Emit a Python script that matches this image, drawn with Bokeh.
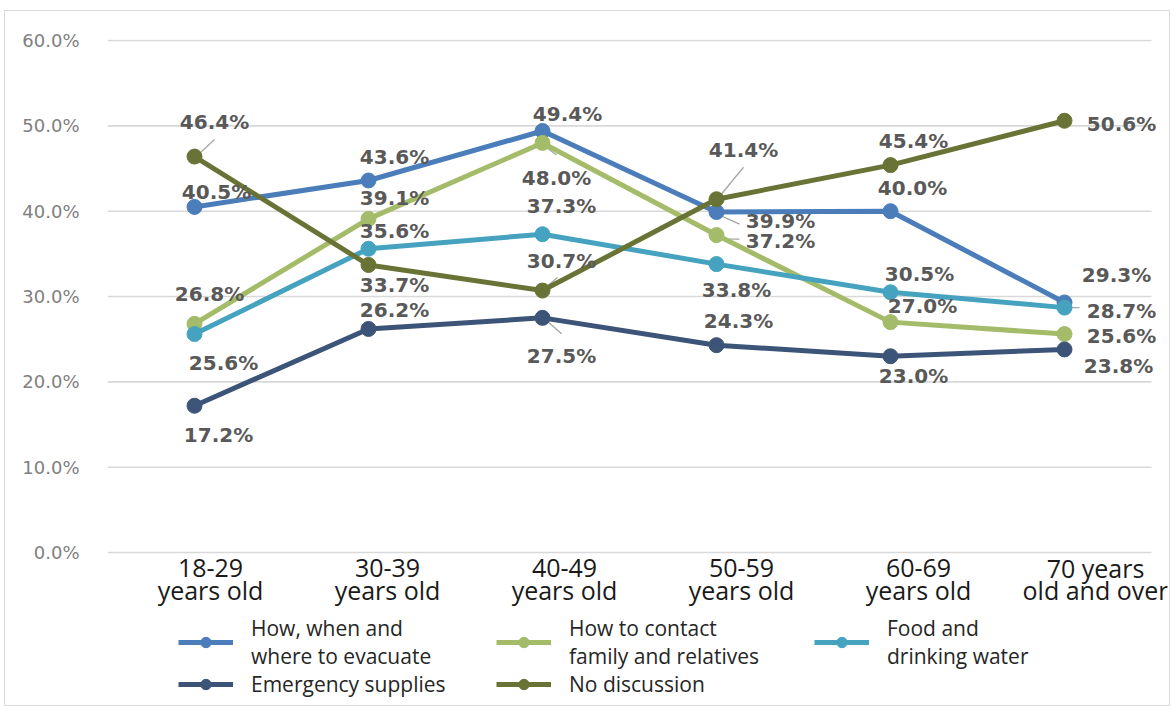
from bokeh.plotting import figure
from bokeh.models import (ColumnDataSource, LabelSet, Legend, LegendItem, FixedTicker,
                          PrintfTickFormatter, Range1d)
from bokeh.core.properties import value
from bokeh.embed import file_html
from bokeh.resources import INLINE

# ---------------- data ----------------
cat_line1 = ["18-29", "30-39", "40-49", "50-59", "60-69", "70 years"]
cat_line2 = ["years old", "years old", "years old", "years old", "years old", "old and over"]
series_names = ["How, when and\nwhere to evacuate", "How to contact\nfamily and relatives",
                "Food and\ndrinking water", "Emergency supplies", "No discussion"]
evacuate = [40.5, 43.6, 49.4, 39.9, 40.0, 29.3]
contact = [26.8, 39.1, 48.0, 37.2, 27.0, 25.6]
food = [25.6, 35.6, 37.3, 33.8, 30.5, 28.7]
supplies = [17.2, 26.2, 27.5, 24.3, 23.0, 23.8]
no_discussion = [46.4, 33.7, 30.7, 41.4, 45.4, 50.6]
y_ticks = [0, 10, 20, 30, 40, 50, 60]

series_values = [evacuate, contact, food, supplies, no_discussion]

# ---------------- styles ----------------
colors = ["#4a7dba", "#a4bc6a", "#45a3c0", "#3c5478", "#6a7336"]

# data-label offsets in px (dx, dy upward)
label_offsets = [
    [(22, 15), (26, 23), (25, 17), (64, -9), (22, 23), (52, 27)],
    [(15, 30), (26, 21), (14, -35), (64, -6), (32, 16), (57, -2)],
    [(29, -29), (26, 18), (19, 28), (20, -26), (29, 18), (57, -3)],
    [(24, -29), (26, 19), (19, -38), (22, 24), (23, -20), (54, -17)],
    [(20, 35), (26, -20), (19, 30), (27, 49), (23, 24), (57, -3)],
]
# category-label horizontal offsets in px
cat_dx = [16, 19, 22, 25, 28, 31]
# leader lines: (series, index, start offset px, end offset px)
leaders = [
    (4, 0, (5, 3), (20, 17)),
    (4, 2, (2, 2), (15, 13)),
    (4, 3, (4, 4), (27, 32)),
    (0, 3, (3, -3), (23, -12)),
    (1, 3, (4, -4), (23, -4)),
    (1, 2, (2, -3), (14, -12)),
    (3, 2, (2, -1), (19, -16)),
    (2, 5, (5, 0), (15, 0)),
]

W, H = 1166, 696
ML, MR, MT, MB = 102, 4, 28, 0
n = len(cat_line1)
px_x = 174.0
px_y = 512.0 / 60.0
x_lo = -0.5
x_hi = x_lo + (W - ML - MR) / px_x
y_hi = 60.12
y_lo = y_hi - (H - MT - MB) / px_y

p = figure(width=W, height=H, x_range=Range1d(x_lo, x_hi), y_range=Range1d(y_lo, y_hi),
           output_backend="svg", toolbar_location=None, x_axis_location=None,
           min_border_left=ML, min_border_right=MR, min_border_top=MT, min_border_bottom=MB)
p.margin = (10, 0, 0, 4)
p.styles = {"border": "1.5px solid #d9d9d9", "box-sizing": "border-box"}
p.outline_line_color = None
p.background_fill_color = "white"
p.border_fill_color = "white"

# horizontal grid lines spanning the category area
p.xgrid.grid_line_color = None
p.ygrid.grid_line_color = None
p.segment(x0=[x_lo] * len(y_ticks), x1=[n - 0.5] * len(y_ticks), y0=y_ticks, y1=y_ticks,
          line_color="#d9d9d9", line_width=1.6)

# y axis
p.yaxis.ticker = FixedTicker(ticks=y_ticks)
p.yaxis.formatter = PrintfTickFormatter(format="%.1f%%")
p.yaxis.axis_line_color = None
p.yaxis.major_tick_line_color = None
p.yaxis.minor_tick_line_color = None
p.yaxis.major_label_text_font = "DejaVu Sans"
p.yaxis.major_label_text_font_size = "18px"
p.yaxis.major_label_text_color = "#808080"
p.yaxis.major_label_standoff = 22

xs = list(range(n))

# category labels below the 0% line (two lines, each centred)
cat_src = ColumnDataSource(dict(x=xs, y=[0] * n, t1=cat_line1, t2=cat_line2, dx=cat_dx))
for col, dy in (("t1", -15), ("t2", -37)):
    p.add_layout(LabelSet(x="x", y="y", text=col, source=cat_src, x_offset="dx", y_offset=dy,
                          text_font=value("Open Sans"), text_font_size="25px",
                          text_color="#1a1a1a", text_align="center", text_baseline="middle"))

# leader lines
lx0, ly0, lx1, ly1 = [], [], [], []
for s, i, (a, b), (c, d) in leaders:
    v = series_values[s][i]
    lx0.append(i + a / px_x); ly0.append(v + b / px_y)
    lx1.append(i + c / px_x); ly1.append(v + d / px_y)
p.segment(x0=lx0, y0=ly0, x1=lx1, y1=ly1, line_color="#a6a6a6", line_width=1.3)

items = []
for k, (name, vals) in enumerate(zip(series_names, series_values)):
    src = ColumnDataSource(dict(x=xs, y=vals,
                                text=[f"{v:.1f}%" for v in vals],
                                dx=[o[0] for o in label_offsets[k]],
                                dy=[o[1] for o in label_offsets[k]]))
    lr = p.line("x", "y", source=src, line_color=colors[k], line_width=5)
    sr = p.scatter("x", "y", source=src, marker="circle", size=15,
                   fill_color=colors[k], line_color=colors[k])
    items.append(LegendItem(label=name, renderers=[lr, sr]))
    labels = LabelSet(x="x", y="y", text="text", source=src, x_offset="dx", y_offset="dy",
                      text_font=value("DejaVu Sans"), text_font_style="bold",
                      text_font_size="20px", text_color="#595959",
                      text_align="center", text_baseline="middle")
    p.add_layout(labels)

# legend fills column by column: order so rows read evacuate/contact/food, supplies/no discussion
legend_order = [0, 3, 1, 4, 2]
legend = Legend(items=[items[i] for i in legend_order], location=(71, 9), ncols=3,
                glyph_width=55, glyph_height=26, label_standoff=18,
                label_width=245, spacing=0, padding=0, margin=0,
                label_text_font="Open Sans", label_text_font_size="21px",
                label_text_color="#262626", label_text_line_height=0.74,
                border_line_color=None, background_fill_alpha=0)
p.add_layout(legend)

open("out.html", "w").write(file_html(p, INLINE))
